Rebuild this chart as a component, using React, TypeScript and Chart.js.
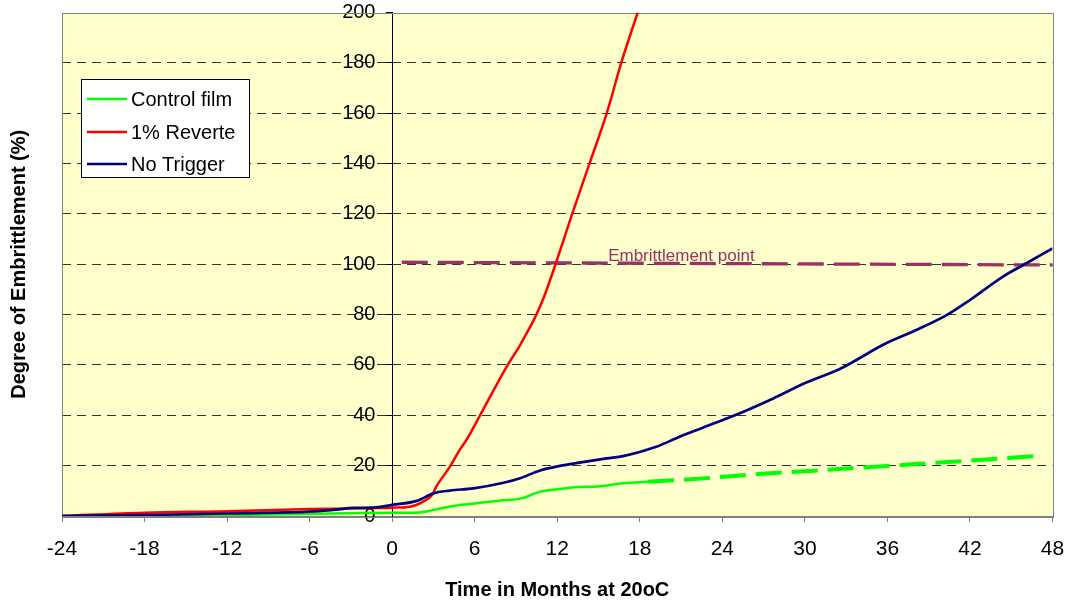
import React, { useEffect, useRef } from "react";
import { Chart, registerables } from "chart.js";

Chart.register(...registerables);

const FONT = "'Liberation Sans', Arial, sans-serif";

const seriesNames = ["Control film", "1% Reverte", "No Trigger"];
const seriesColors = ["#00FF00", "#FF0000", "#000080"];
const embrittlementLabel = "Embrittlement point";
const embrittlementColor = "#993366";

const xTickValues = [-24, -18, -12, -6, 0, 6, 12, 18, 24, 30, 36, 42, 48];
const yTickValues = [0, 20, 40, 60, 80, 100, 120, 140, 160, 180, 200];

const controlMonths = [-24, -18, -12, -6, -3, 0, 1, 2, 2.7, 3.5, 4.7, 6, 7.8, 9.4, 10.6, 12, 13.6, 14.9, 16.8, 18.6, 22, 26.7, 30, 36, 42, 46.7];
const controlValues = [0, 0.2, 0.4, 0.8, 1.1, 1.3, 1.3, 1.4, 2.0, 3.0, 4.2, 5.0, 6.1, 7.0, 9.4, 10.6, 11.5, 11.7, 13.0, 13.6, 14.7, 16.7, 17.8, 19.9, 22.0, 23.8];
const controlDashFrom = 18.6;

const reverteMonths = [-24, -18, -12, -6, -3, 0, 1.3, 2.25, 2.9, 3.2, 4.2, 4.9, 5.4, 6.4, 8.4, 9.3, 9.7, 10.3, 11.0, 11.9, 13.1, 14.35, 15.6, 16.65, 17.85];
const reverteValues = [0, 1.3, 1.9, 2.8, 3.0, 3.3, 3.7, 5.7, 8.3, 11.6, 19.6, 26.2, 30.2, 40.1, 60.0, 67.9, 71.9, 77.9, 86.5, 100.4, 120.2, 140.1, 160, 180, 200];

const noTriggerMonths = [-24, -18, -12, -6, -4.3, -2.8, -1.4, 0, 1.8, 3.0, 4.2, 5.9, 8.1, 9.3, 10.7, 12.2, 13.6, 15.6, 16.8, 19.2, 20.9, 22.4, 25.0, 27.7, 30.1, 32.5, 35.9, 38.1, 40.3, 42.0, 44.4, 46.1, 48];
const noTriggerValues = [0, 0.4, 1.0, 1.7, 2.4, 3.2, 3.3, 4.4, 6.0, 9.0, 10.1, 11.0, 13.2, 15.0, 18.0, 19.9, 21.2, 22.9, 23.8, 27.5, 31.5, 34.7, 40.2, 46.7, 53.0, 58.3, 68.6, 73.9, 79.8, 85.8, 95.1, 100.4, 106.3];

const embrittlementMonths = [0.7, 48.4];
const embrittlementValues = [100.8, 99.7];
const embrittlementLabelMonth = 15.7;
const embrittlementLabelValue = 100;

const toPoints = (xs: number[], ys: number[]) => xs.map((x, i) => ({ x, y: ys[i] }));

const decorPlugin = {
  id: "decor",
  beforeDraw(chart: any) {
    const { ctx, chartArea: a } = chart;
    ctx.save();
    ctx.fillStyle = "#FFFFCC";
    ctx.fillRect(a.left, a.top, a.right - a.left, a.bottom - a.top);
    ctx.restore();
  },
  beforeDatasetsDraw(chart: any) {
    const { ctx, chartArea: a } = chart;
    ctx.save();
    ctx.strokeStyle = "#808080";
    ctx.lineWidth = 1;
    ctx.strokeRect(Math.round(a.left) + 0.5, Math.round(a.top) + 0.5, Math.round(a.right - a.left), Math.round(a.bottom - a.top));
    ctx.restore();
  },
  afterDatasetsDraw(chart: any) {
    const { ctx, scales } = chart;
    ctx.save();
    ctx.fillStyle = embrittlementColor;
    ctx.font = `17px ${FONT}`;
    ctx.textAlign = "left";
    ctx.textBaseline = "alphabetic";
    ctx.fillText(
      embrittlementLabel,
      scales.x.getPixelForValue(embrittlementLabelMonth),
      scales.y.getPixelForValue(embrittlementLabelValue) - 3
    );
    ctx.restore();

    const lx = 81, ly = 79, lw = 168, lh = 98;
    ctx.save();
    ctx.fillStyle = "#FFFFFF";
    ctx.fillRect(lx, ly, lw, lh);
    ctx.strokeStyle = "#000000";
    ctx.lineWidth = 1;
    ctx.strokeRect(lx + 0.5, ly + 0.5, lw, lh);
    const rows = [99, 132, 164];
    ctx.font = `20px ${FONT}`;
    ctx.textBaseline = "middle";
    ctx.textAlign = "left";
    seriesNames.forEach((name, i) => {
      ctx.strokeStyle = seriesColors[i];
      ctx.lineWidth = 2.5;
      ctx.beginPath();
      ctx.moveTo(87, rows[i]);
      ctx.lineTo(127, rows[i]);
      ctx.stroke();
      ctx.fillStyle = "#000000";
      ctx.fillText(name, 131, rows[i] + 1);
    });
    ctx.restore();
  },
  afterDraw(chart: any) {
    const { ctx, chartArea: a } = chart;
    ctx.save();
    ctx.translate(19, (a.top + a.bottom) / 2);
    ctx.rotate(-Math.PI / 2);
    ctx.font = `bold 20px ${FONT}`;
    ctx.fillStyle = "#000000";
    ctx.textAlign = "center";
    ctx.textBaseline = "middle";
    ctx.fillText("Degree of Embrittlement (%)", 0, 0);
    ctx.restore();
  },
};

export default function App() {
  const canvasRef = useRef<HTMLCanvasElement | null>(null);

  useEffect(() => {
    if (!canvasRef.current) return;
    const chart = new Chart(canvasRef.current, {
      type: "line",
      data: {
        datasets: [
          {
            label: seriesNames[0],
            data: toPoints(controlMonths, controlValues),
            borderColor: seriesColors[0],
            borderWidth: 2.5,
            pointRadius: 0,
            cubicInterpolationMode: "monotone",
            order: 2,
            segment: {
              borderDash: (c: any) => (c.p0.parsed.x >= controlDashFrom ? [26, 10] : undefined),
              borderWidth: (c: any) => (c.p0.parsed.x >= controlDashFrom ? 4 : undefined),
            },
          } as any,
          {
            label: seriesNames[1],
            data: toPoints(reverteMonths, reverteValues),
            borderColor: seriesColors[1],
            borderWidth: 2.5,
            pointRadius: 0,
            cubicInterpolationMode: "monotone",
            order: 1,
          },
          {
            label: seriesNames[2],
            data: toPoints(noTriggerMonths, noTriggerValues),
            borderColor: seriesColors[2],
            borderWidth: 2.7,
            pointRadius: 0,
            cubicInterpolationMode: "monotone",
            order: 0,
          },
          {
            label: embrittlementLabel,
            data: toPoints(embrittlementMonths, embrittlementValues),
            borderColor: embrittlementColor,
            borderWidth: 3.3,
            borderDash: [26, 10],
            pointRadius: 0,
            order: 3,
          },
        ],
      },
      options: {
        animation: false,
        responsive: true,
        maintainAspectRatio: false,
        layout: { padding: { left: 62, right: 14.5, top: 12.5, bottom: 0 } },
        plugins: {
          legend: { display: false },
          tooltip: { enabled: false },
        },
        scales: {
          x: {
            type: "linear",
            min: -24,
            max: 48,
            position: "bottom",
            afterBuildTicks: (s: any) => {
              s.ticks = xTickValues.map((v) => ({ value: v }));
            },
            afterFit: (s: any) => {
              s.height = 85;
            },
            ticks: {
              font: { family: FONT, size: 21, lineHeight: 2.57 },
              color: "#000000",
              padding: 0,
              maxRotation: 0,
              autoSkip: false,
              callback: (v: any) => String(v),
            },
            grid: {
              drawOnChartArea: false,
              drawTicks: true,
              tickLength: 6,
              tickColor: "#808080",
            },
            border: { color: "#808080", width: 1 },
            title: {
              display: true,
              text: "Time in Months at 20oC",
              color: "#000000",
              font: { family: FONT, size: 20, weight: "bold", lineHeight: 1 },
              padding: { top: 0, bottom: 1 },
            },
          },
          y: {
            type: "linear",
            min: 0,
            max: 200,
            position: { x: 0 } as any,
            afterBuildTicks: (s: any) => {
              s.ticks = yTickValues.map((v) => ({ value: v }));
            },
            ticks: {
              font: { family: FONT, size: 20 },
              color: "#000000",
              padding: 0,
              callback: (v: any) => String(v) + "   ",
            },
            grid: {
              color: (c: any) =>
                c.tick && (c.tick.value === 0 || c.tick.value === 200) ? "rgba(0,0,0,0)" : "#333333",
              lineWidth: 1,
              tickLength: 6,
              tickColor: "#000000",
              tickBorderDash: [],
            },
            border: { color: "#000000", width: 1, dash: [9, 6] },
          },
        },
      } as any,
      plugins: [decorPlugin],
    });
    return () => chart.destroy();
  }, []);

  return (
    <div style={{ position: "absolute", left: 0, top: 0, width: 1067, height: 601 }}>
      <canvas ref={canvasRef} />
    </div>
  );
}
